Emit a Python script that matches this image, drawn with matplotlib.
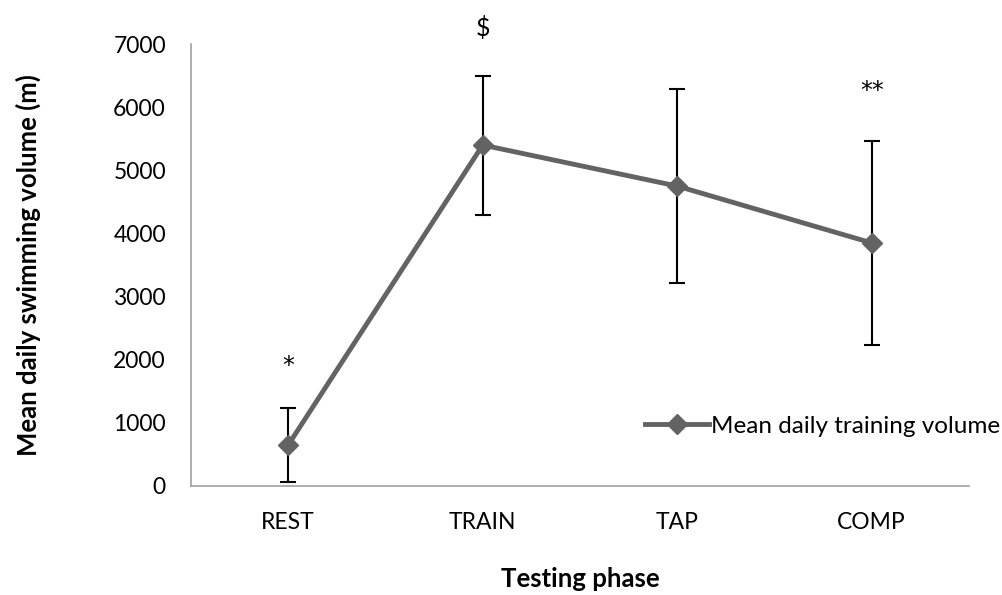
import matplotlib.pyplot as plt
import numpy as np

#%% Data
phases = ['REST', 'TRAIN', 'TAP', 'COMP']
volume = [650, 5400, 4750, 3850]
volume_sd = [580, 1100, 1530, 1620]
marks = ['*', '$', '', '**']
mark_y = [1900, 7250, 0, 6250]

#%% Plot
plt.rcParams['font.family'] = ['Lato', 'DejaVu Sans']
fig = plt.figure(figsize=(10.02, 5.95), dpi=100)
ax = fig.add_axes([0.1906, 0.1832, 0.7764, 0.7428])

x = np.arange(len(phases))
ax.errorbar(x, volume, yerr=volume_sd, fmt='none', ecolor='black',
            elinewidth=1.5, capsize=6, capthick=1.5, zorder=2)
ax.plot(x, volume, color='#636363', lw=3.5, marker='D', markersize=10,
        label='Mean daily training volume', zorder=3)

for xi, m, my in zip(x, marks, mark_y):
    if m == '$':
        ax.text(xi, my, m, ha='center', va='center', fontsize=18,
                clip_on=False)
    elif m:
        ax.text(xi, my, m, ha='center', va='center', fontsize=17,
                family='DejaVu Sans', clip_on=False)

ax.set_xlim(-0.5, 3.5)
ax.set_ylim(0, 7000)
ax.set_xticks(x)
ax.set_xticklabels(phases)
ax.set_yticks(np.arange(0, 7001, 1000))
ax.tick_params(length=0, labelsize=16.5)
ax.tick_params(axis='y', pad=18)
ax.tick_params(axis='x', pad=19)
for s in ['top', 'right']:
    ax.spines[s].set_visible(False)
for s in ['left', 'bottom']:
    ax.spines[s].set_color('#A0A0A0')
    ax.spines[s].set_linewidth(1.2)

ax.set_ylabel('Mean daily swimming volume (m)', fontsize=18.5,
              fontweight='bold', labelpad=52)
ax.set_xlabel('Testing phase', fontsize=18.5, fontweight='bold', labelpad=24)

ax.legend(loc='center left', bbox_to_anchor=(0.584, 0.135), frameon=False,
          fontsize=17.5, handlelength=2.6, handletextpad=0.1, borderpad=0,
          borderaxespad=0)

plt.savefig('out.png')
